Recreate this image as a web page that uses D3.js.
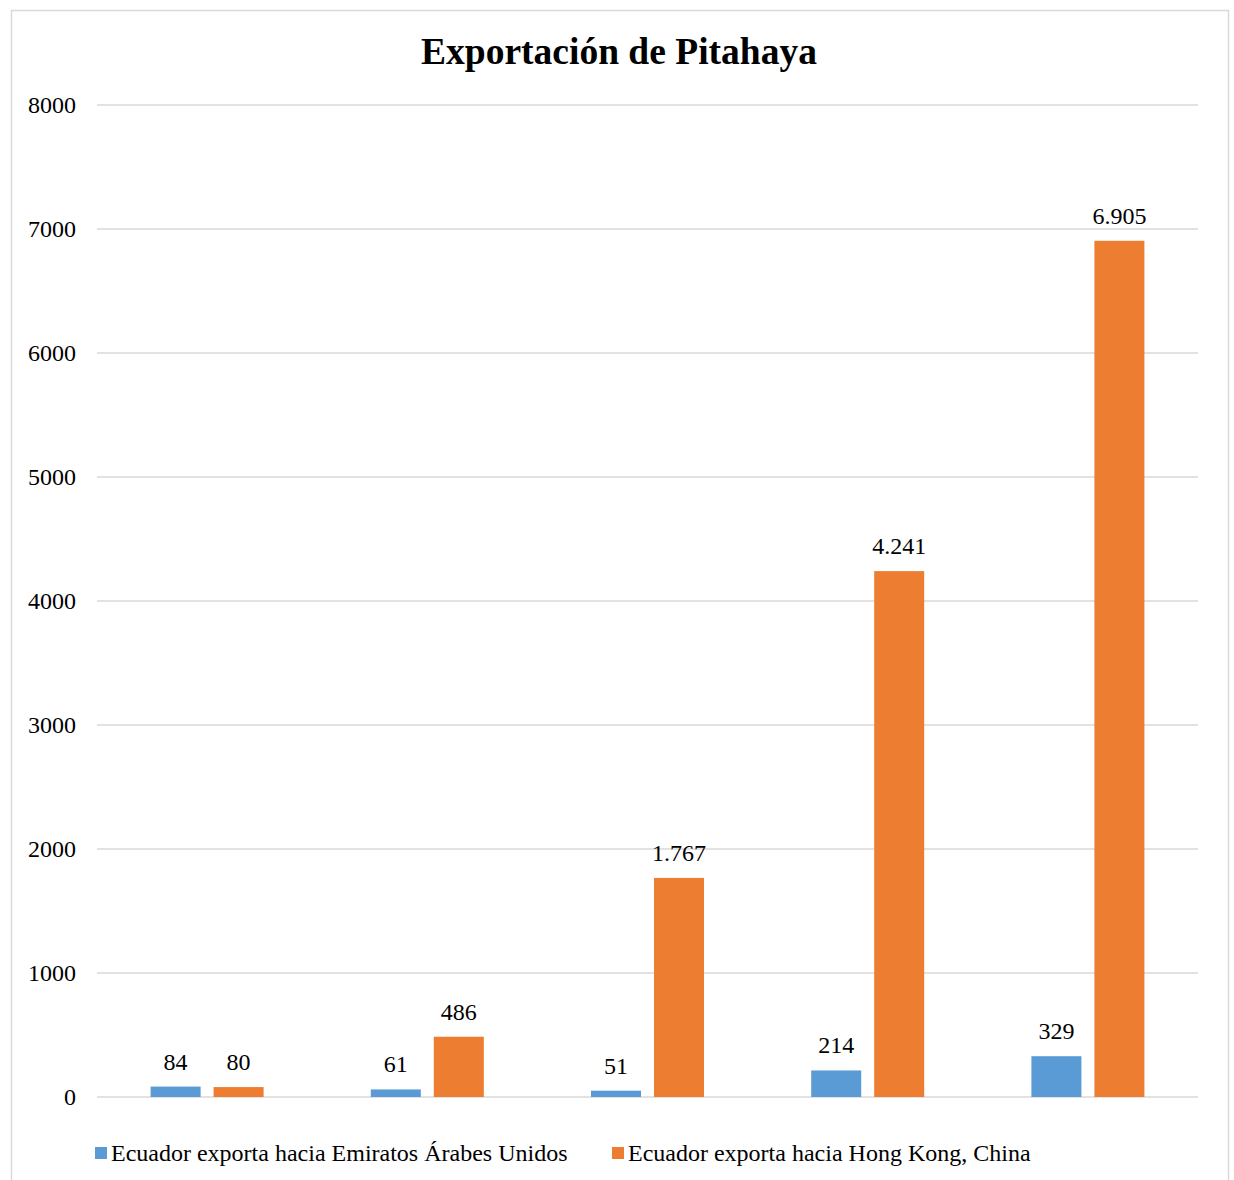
<!DOCTYPE html>
<html>
<head>
<meta charset="utf-8">
<script src="https://cdn.jsdelivr.net/npm/d3@7"></script>
<style>
  body { margin: 0; background: #fff; }
  svg { display: block; font-family: "Liberation Serif", "Times New Roman", serif; }
</style>
</head>
<body>
<div id="chart"></div>
<script>
const categories = ["1", "2", "3", "4", "5"];
const seriesNames = [
    "Ecuador exporta hacia Emiratos Árabes Unidos",
    "Ecuador exporta hacia Hong Kong, China"
];
const emiratos = [84, 61, 51, 214, 329];
const hongKong = [80, 486, 1767, 4241, 6905];
const yTicks = [0, 1000, 2000, 3000, 4000, 5000, 6000, 7000, 8000];
const colors = ["#5b9bd5", "#ed7d31"];

const width = 1234, height = 1180;
const margin = { top: 105, right: 36, bottom: 83, left: 97 };

const svg = d3.select("#chart")
    .append("svg")
    .attr("width", width)
    .attr("height", height);

// outer frame
svg.append("rect")
    .attr("x", 11.5).attr("y", 10.5)
    .attr("width", 1217).attr("height", 1180)
    .attr("fill", "#fff")
    .attr("stroke", "#d9d9d9")
    .attr("stroke-width", 1.5);

svg.append("text")
    .attr("x", 619).attr("y", 64)
    .attr("text-anchor", "middle")
    .style("font-size", "37.5px")
    .style("font-weight", "bold")
    .text("Exportación de Pitahaya");

const x = d3.scaleBand()
    .domain(categories)
    .range([margin.left, width - margin.right]);

const x1 = d3.scaleBand()
    .domain([0, 1])
    .range([x.bandwidth() / 2 - 56.5, x.bandwidth() / 2 + 56.5])
    .paddingInner(0.206);

const y = d3.scaleLinear()
    .domain([0, 8000])
    .range([height - margin.bottom, margin.top]);

// gridlines
svg.append("g")
    .selectAll("line")
    .data(yTicks)
    .join("line")
    .attr("x1", margin.left)
    .attr("x2", width - margin.right)
    .attr("y1", d => y(d))
    .attr("y2", d => y(d))
    .attr("stroke", "#d9d9d9")
    .attr("stroke-width", 1.5);

// y axis labels
const yAxis = svg.append("g")
    .attr("transform", `translate(${margin.left - 21},0)`)
    .call(d3.axisLeft(y).tickValues(yTicks).tickFormat(d3.format("d")).tickSize(0).tickPadding(0));
yAxis.select(".domain").remove();
yAxis.selectAll("text")
    .style("font-family", "Liberation Serif, serif")
    .style("font-size", "24px")
    .attr("fill", "#000");

const fmt = d3.formatLocale({ decimal: ",", thousands: ".", grouping: [3], currency: ["", ""] }).format(",");

const rows = categories.map((c, i) => ({ cat: c, vals: [emiratos[i], hongKong[i]] }));

const groups = svg.append("g")
    .selectAll("g")
    .data(rows)
    .join("g")
    .attr("transform", d => `translate(${x(d.cat)},0)`);

const bars = groups.selectAll("g")
    .data(d => d.vals.map((v, k) => ({ k, v })))
    .join("g");

bars.append("rect")
    .attr("x", d => x1(d.k))
    .attr("width", x1.bandwidth())
    .attr("y", d => y(d.v))
    .attr("height", d => y(0) - y(d.v))
    .attr("fill", d => colors[d.k]);

bars.append("text")
    .attr("x", d => x1(d.k) + x1.bandwidth() / 2)
    .attr("y", d => y(d.v) - 17)
    .attr("text-anchor", "middle")
    .style("font-size", "24px")
    .text(d => fmt(d.v));

// legend
const legendX = [95, 612];
const legend = svg.append("g")
    .selectAll("g")
    .data(seriesNames)
    .join("g")
    .attr("transform", (d, i) => `translate(${legendX[i]},1147)`);

legend.append("rect")
    .attr("width", 12).attr("height", 12)
    .attr("fill", (d, i) => colors[i]);

legend.append("text")
    .attr("x", 16).attr("y", 14)
    .style("font-size", "24px")
    .text(d => d);
</script>
</body>
</html>
